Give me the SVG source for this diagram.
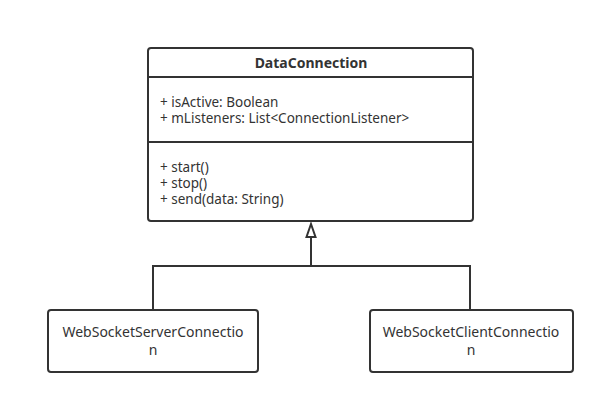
<svg xmlns="http://www.w3.org/2000/svg" width="605" height="405" viewBox="0 0 605 405">
<style>
.box{fill:#fff;stroke:#333;stroke-width:2}
.sep{stroke:#333;stroke-width:2}
.t{font-family:"Noto Sans","DejaVu Sans",sans-serif;font-size:13.5px;fill:#333}
.b{font-weight:bold;text-anchor:middle;font-size:14px}
.c{text-anchor:middle;font-size:14px}
.conn{fill:none;stroke:#333;stroke-width:2}
</style>
<rect width="605" height="405" fill="#fff"/>
<g id="connectors">
<path class="conn" d="M311,237 V266"/>
<path class="conn" d="M153,310 V266 H470 V310"/>
<path d="M311,224 L315.5,237 L306.5,237 Z" fill="#fff" stroke="#333" stroke-width="2"/>
</g>
<g id="DataConnection">
<rect class="box" x="148" y="48" width="325" height="173" rx="3"/>
<line class="sep" x1="148" y1="77" x2="473" y2="77"/>
<line class="sep" x1="148" y1="142" x2="473" y2="142"/>
<text class="t b" x="311" y="68">DataConnection</text>
<text class="t" x="160" y="107">+ isActive: Boolean</text>
<text class="t" x="160" y="123">+ mListeners: List&lt;ConnectionListener&gt;</text>
<text class="t" x="160" y="172">+ start()</text>
<text class="t" x="160" y="188">+ stop()</text>
<text class="t" x="160" y="204">+ send(data: String)</text>
</g>
<g id="WebSocketServerConnection">
<rect class="box" x="48" y="310" width="210" height="62" rx="3"/>
<text class="t c" x="153" y="337">WebSocketServerConnectio</text>
<text class="t c" x="153" y="355">n</text>
</g>
<g id="WebSocketClientConnection">
<rect class="box" x="370" y="310" width="203" height="62" rx="3"/>
<text class="t c" x="471" y="337">WebSocketClientConnectio</text>
<text class="t c" x="471" y="355">n</text>
</g>
</svg>
